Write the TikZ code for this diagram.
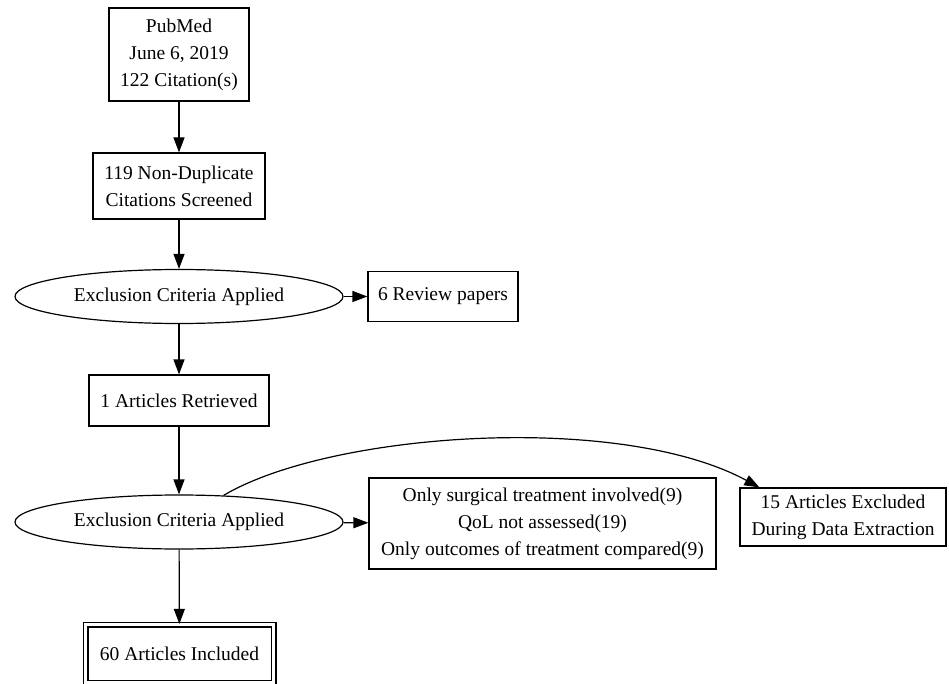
\documentclass[tikz,border=0pt]{standalone}
\usepackage{fontspec}
\setmainfont{Liberation Serif}
\usetikzlibrary{arrows.meta,shapes.geometric}
\begin{document}
\begin{tikzpicture}[x=1pt,y=1pt,line width=1.2pt,
    every node/.style={font=\fontsize{19.5}{27}\selectfont,align=center,inner sep=0pt},
    box/.style={draw,rectangle},
    crit/.style={draw,ellipse,minimum width=328,minimum height=54},
    final/.style={draw,rectangle,double,double distance=3.6pt}]
  \useasboundingbox (0,0) rectangle (949,-684);
      \draw
        (179,-54.5) node[box,minimum width=140,minimum height=93] (pubmed){PubMed\\June 6, 2019\\122 Citation(s)}
        (179,-186) node[box,minimum width=172,minimum height=66] (screened){119 Non-Duplicate\\Citations Screened}
        (179,-296.5) node[crit] (crit1){Exclusion Criteria Applied}
        (443,-296.5) node[box,minimum width=150,minimum height=50] (review){6 Review papers}
        (179,-400.5) node[box,minimum width=180,minimum height=51] (retrieved){1 Articles Retrieved}
        (179,-522) node[crit] (crit2){Exclusion Criteria Applied}
        (542.5,-523.5) node[box,minimum width=347,minimum height=91] (reasons){Only surgical treatment involved(9)\\QoL not assessed(19)\\Only outcomes of treatment compared(9)}
        (843,-517) node[box,minimum width=206,minimum height=58] (extract){15 Articles Excluded\\During Data Extraction}
        (179.5,-653.5) node[final,minimum width=188,minimum height=58] (included){60 Articles Included};
      \begin{scope}[-{Triangle[length=15pt,width=11pt]}]
        \draw (pubmed) to (screened);
        \draw (screened) to (crit1);
        \draw (crit1) to (review);
        \draw (crit1) to (retrieved);
        \draw (retrieved) to (crit2);
        \draw (crit2) to (reasons);
        \draw (crit2) .. controls (330,-432) and (620,-412) .. ([xshift=20pt]extract.north west);
        \draw (crit2) to (included);
      \end{scope}
    \end{tikzpicture}
\end{document}
